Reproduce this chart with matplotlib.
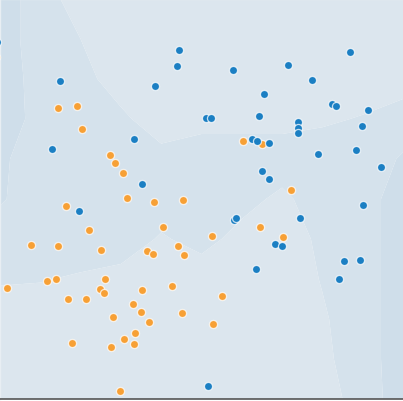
import numpy as np
import matplotlib
matplotlib.use("Agg")
import matplotlib.pyplot as plt

# points of the two classes (chart units, y grows downward)
blue_x = [179, 177, 155, 233, 264, 206, 211, 259, 60, 350, 288, 312, 332, 336, 368,
          362, 298, 298, 298, 252, 257, 269, 318, 356, 381, 262, 269, 52, 134, 142,
          79, 234, 236, 300, 363, 275, 282, 256, 344, 360, 339, 208, -3]
blue_y = [51, 67, 87, 71, 95, 119, 119, 117, 82, 53, 66, 81, 105, 107, 111,
          127, 123, 129, 134, 140, 142, 144, 155, 151, 168, 172, 180, 150, 140, 185,
          212, 221, 219, 219, 206, 245, 247, 270, 262, 261, 280, 387, 43]

orange_x = [58, 77, 82, 110, 115, 123, 127, 154, 183, 243, 262, 291, 66, 89, 163,
            31, 58, 101, 147, 153, 178, 184, 7, 47, 56, 105, 100, 104, 142, 172,
            68, 86, 133, 141, 182, 113, 149, 135, 124, 134, 72, 111, 120, 212, 260,
            283, 222, 213, -4]
orange_y = [109, 107, 130, 156, 164, 174, 199, 203, 201, 142, 145, 191, 207, 231, 228,
            246, 247, 251, 252, 255, 247, 256, 289, 282, 280, 280, 290, 294, 291, 287,
            300, 300, 305, 313, 314, 318, 323, 334, 340, 345, 344, 348, 392, 237, 228,
            238, 297, 325, 58]

# background shading levels read on a coarse grid (0 light, 1 mid, 2 dark)
grid_x = np.linspace(0, 403, 11)
grid_y = np.linspace(0, 400, 11)
shade = np.array([
    [2.0, 1.0, 0.0, 0.0, 0.0, 0.0, 0.0, 0.0, 0.0, 0.0, 0.0],
    [2.0, 1.0, 0.5, 0.0, 0.0, 0.0, 0.0, 0.0, 0.0, 0.0, 0.0],
    [2.2, 1.0, 1.0, -0.2, -0.3, 0.0, 0.0, 0.0, 0.0, 0.0, 0.0],
    [2.0, 1.2, 1.0, 0.8, -0.3, 0.2, 0.2, 0.2, 0.37, 0.56, 1.0],
    [1.6, 1.2, 1.0, 1.0, 1.0, 1.0, 1.0, 1.0, 1.0, 1.0, 1.6],
    [1.6, 1.0, 1.0, 1.0, 1.0, 1.0, 0.8, 0.3, 1.0, 1.0, 2.1],
    [1.0, 1.0, 1.0, 1.0, 0.4, 0.8, 0.2, 0.0, 0.7, 1.0, 2.1],
    [0.6, 0.55, 0.4, 0.2, 0.1, 0.0, 0.0, 0.0, 0.55, 1.0, 2.1],
    [0.0, 0.0, 0.0, 0.0, 0.0, 0.0, 0.0, 0.0, 0.4, 1.0, 2.1],
    [0.0, 0.0, 0.0, 0.0, 0.0, 0.0, 0.0, 0.0, 0.3, 1.0, 2.1],
    [0.0, 0.0, 0.0, 0.0, 0.0, 0.0, 0.0, 0.0, 0.1, 0.9, 2.1],
])

fig = plt.figure(figsize=(4.03, 4.02), dpi=100)
ax = fig.add_axes([0, 2 / 402, 1, 400 / 402])

ax.contourf(grid_x, grid_y, shade, levels=[-10, 0.5, 1.5, 10],
            colors=["#dce6ee", "#d5e2ec", "#cfdeea"], antialiased=True)

ax.scatter(orange_x, orange_y, s=34, color="#f7a035",
           edgecolors=(1, 1, 1, 0.75), linewidths=0.9, zorder=3)
ax.scatter(blue_x, blue_y, s=34, color="#1b7fc3",
           edgecolors=(1, 1, 1, 0.75), linewidths=0.9, zorder=3)

ax.set_xlim(0, 403)
ax.set_ylim(400, 0)
ax.set_xticks([])
ax.set_yticks([])
for side in ["left", "top"]:
    ax.spines[side].set_color("#e8eef3")
    ax.spines[side].set_linewidth(1)
ax.spines["right"].set_visible(False)
ax.spines["bottom"].set_color("#555555")
ax.spines["bottom"].set_linewidth(1.2)

fig.savefig("out.png", dpi=100)
